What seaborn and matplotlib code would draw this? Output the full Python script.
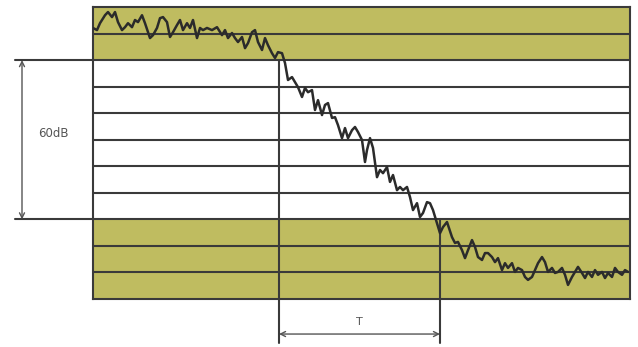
import numpy as np
import pandas as pd
import matplotlib
matplotlib.use("Agg")
import matplotlib.pyplot as plt
import seaborn as sns

# Energy decay curve: time (ms) and sound level (dB, relative to the start of the 60 dB range)
time_ms = [0, 4, 7, 12, 15, 19, 22, 25, 29, 32, 35, 39, 42, 45, 49, 52, 55, 57, 60, 64,
           67, 70, 74, 77, 80, 84, 87, 90, 94, 97, 100, 104, 107, 110, 114, 119, 124, 129,
           132, 135, 139, 142, 145, 149, 152, 155, 159, 162, 165, 169, 172, 175, 179, 182,
           185, 189, 192, 195, 199, 202, 205, 209, 212, 215, 219, 222, 225, 229, 232, 235,
           239, 242, 245, 249, 252, 255, 259, 262, 265, 269, 272, 274, 277, 280, 284, 287,
           290, 294, 297, 300, 304, 307, 310, 314, 317, 320, 324, 327, 330, 334, 337, 340,
           344, 347, 350, 354, 359, 362, 365, 369, 372, 375, 379, 382, 385, 389, 392, 395,
           399, 402, 405, 409, 412, 415, 419, 422, 425, 429, 432, 435, 439, 442, 445, 449,
           452, 455, 459, 462, 465, 469, 472, 475, 479, 482, 485, 489, 492, 495, 499, 502,
           505, 509, 512, 515, 519, 522, 525, 529, 532, 535]
level_db = [12.1, 11.3, 13.9, 16.9, 18.1, 16.2, 18.1, 14.3, 11.3, 12.4, 13.9, 12.4, 15.1,
            14.3, 16.9, 13.9, 10.5, 8.3, 9.4, 12.1, 15.8, 16.2, 14.3, 8.7, 10.5, 13.2, 15.1,
            11.3, 13.9, 12.1, 15.1, 8.3, 12.1, 11.3, 12.1, 11.3, 12.4, 9.4, 11.3, 8.3, 10.2,
            8.3, 6.8, 8.7, 4.5, 6.4, 10.5, 11.3, 6.8, 3.8, 8.3, 5.6, 2.6, 0.8, 3.0, 2.6,
            -1.1, -7.5, -6.4, -8.3, -10.2, -13.9, -10.5, -12.1, -11.3, -18.8, -15.1, -20.7,
            -16.9, -16.2, -21.8, -21.5, -24.5, -29.4, -25.6, -29.4, -26.4, -25.2, -27.1,
            -30.1, -38.4, -33.9, -29.4, -33.1, -44.1, -41.4, -42.6, -40.3, -45.9, -43.3,
            -49.0, -47.8, -49.0, -47.8, -51.6, -56.5, -53.9, -59.1, -57.6, -53.5, -53.9,
            -56.5, -61.4, -65.2, -62.9, -61.0, -66.7, -68.9, -68.5, -71.6, -74.6, -71.6,
            -67.8, -70.4, -74.2, -75.3, -72.7, -72.7, -74.2, -76.1, -74.6, -79.1, -76.5,
            -78.3, -76.5, -79.8, -78.3, -79.1, -81.7, -82.8, -81.7, -79.1, -76.5, -74.2,
            -76.1, -79.8, -78.3, -80.2, -79.8, -78.3, -80.9, -84.7, -81.7, -79.8, -77.9,
            -80.2, -82.1, -79.8, -81.7, -79.1, -80.9, -79.8, -82.1, -80.2, -81.7, -78.3,
            -79.8, -80.9, -79.1, -79.8]

# Level grid (10 dB steps) and the shaded regions outside the 60 dB evaluation range
grid_levels = [10, 0, -10, -20, -30, -40, -50, -60, -70, -80]
shaded_ranges = [(0, 20), (-90, -60)]
range_top, range_bottom = 0, -60
t_start, t_end = 186, 347
range_label = "60dB"
time_label = "T"

df = pd.DataFrame({"time": time_ms, "level": level_db})

sns.set_theme(style="white")
plt.rcParams["font.family"] = ["DejaVu Sans"]

fig = plt.figure(figsize=(6.38, 3.47), dpi=100)
ax = fig.add_axes([93 / 638, 48 / 347, 537 / 638, 292 / 347])
ax.set_xlim(0, 537)
ax.set_ylim(-90, 20)

fill = "#bfbc60"
ink = "#3a3a3a"

for lo, hi in shaded_ranges:
    ax.axhspan(lo, hi, color=fill, lw=0, zorder=0)
for lv in grid_levels:
    ax.axhline(lv, color=ink, lw=1.5, zorder=1)

sns.lineplot(data=df, x="time", y="level", ax=ax, color="#2b2b2b", lw=1.8,
             estimator=None, sort=False, zorder=3)

ax.set_xticks([])
ax.set_yticks([])
ax.set_xlabel("")
ax.set_ylabel("")
for s in ax.spines.values():
    s.set_color(ink)
    s.set_linewidth(1.5)

# Extension lines and the 60 dB dimension arrow on the left
for lv in (range_top, range_bottom):
    ax.plot([-78, 0], [lv, lv], color=ink, lw=1.5, clip_on=False, zorder=2)
ax.annotate("", xy=(-71, range_top), xytext=(-71, range_bottom),
            arrowprops=dict(arrowstyle="<->", color="#555555", lw=1.0,
                            shrinkA=0, shrinkB=0, mutation_scale=9),
            annotation_clip=False)
ax.text(-40, -27.5, range_label, ha="center", va="center", fontsize=8.5, color="#555555")

# Decay time markers and the T dimension arrow below the chart
ax.plot([t_start, t_start], [range_top, -106.6], color=ink, lw=1.5, clip_on=False, zorder=2)
ax.plot([t_end, t_end], [range_bottom, -106.6], color=ink, lw=1.5, clip_on=False, zorder=2)
ax.annotate("", xy=(t_start, -103.2), xytext=(t_end, -103.2),
            arrowprops=dict(arrowstyle="<->", color="#555555", lw=1.0,
                            shrinkA=0, shrinkB=0, mutation_scale=9),
            annotation_clip=False)
ax.text((t_start + t_end) / 2, -98.7, time_label, ha="center", va="center",
        fontsize=8, color="#555555")

fig.savefig("out.png", dpi=100, facecolor="white")
